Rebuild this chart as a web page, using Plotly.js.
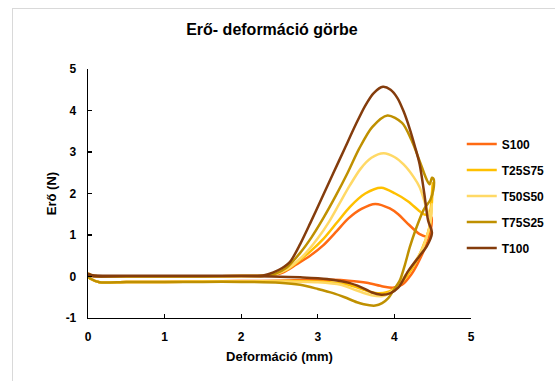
<!DOCTYPE html>
<html>
<head>
<meta charset="utf-8">
<script src="https://cdn.plot.ly/plotly-3.0.1.min.js"></script>
<style>
  html, body { margin: 0; padding: 0; background: #ffffff; overflow: hidden; }
  #frame { position: absolute; left: 12px; top: 8px; width: 600px; height: 420px;
           border: 1px solid #d9d9d9; box-sizing: border-box; }
  #chart { position: absolute; left: 0; top: 0; width: 555px; height: 381px; }
</style>
</head>
<body>
<div id="frame"></div>
<div id="chart"></div>
<script>
// Force–deformation loops: loading branch (0 -> 4.5 mm) followed by unloading branch back to 0.
const seriesNames = ["S100", "T25S75", "T50S50", "T75S25", "T100"];
const seriesColors = ["#FF6A13", "#FFC000", "#FFD966", "#BF9000", "#843C0C"];

const s100X = [0, 0.06, 0.5, 1, 1.5, 2, 2.3, 2.45, 2.55, 2.72, 2.9, 3.07, 3.25, 3.4, 3.57, 3.75, 3.94, 4.05, 4.16, 4.33, 4.42, 4.46, 4.49,
               4.47, 4.40, 4.30, 4.22, 4.10, 3.98, 3.85, 3.64, 3.40, 3.20, 2.90, 2.50, 2.00, 1.50, 1.00, 0.50, 0.15, 0.04, 0];
const s100Y = [0.07, 0.02, 0.0, 0.0, 0.0, 0.01, 0.02, 0.05, 0.1, 0.29, 0.5, 0.75, 1.1, 1.4, 1.63, 1.75, 1.64, 1.5, 1.3, 1.02, 0.97, 1.2, 1.42,
               1.05, 0.69, 0.3, 0.05, -0.2, -0.27, -0.24, -0.15, -0.1, -0.08, -0.08, -0.1, -0.11, -0.12, -0.13, -0.13, -0.14, -0.06, 0.0];

const t25X = [0, 0.06, 0.5, 1, 1.5, 2, 2.3, 2.45, 2.6, 2.72, 2.9, 3.07, 3.25, 3.42, 3.62, 3.83, 4.01, 4.18, 4.33, 4.40, 4.46, 4.49, 4.5,
              4.49, 4.46, 4.40, 4.30, 4.16, 4.05, 3.90, 3.75, 3.60, 3.40, 3.10, 2.60, 2.00, 1.50, 1.00, 0.50, 0.15, 0.04, 0];
const t25Y = [0.07, 0.02, 0.0, 0.0, 0.0, 0.01, 0.02, 0.06, 0.17, 0.33, 0.6, 0.9, 1.3, 1.68, 2.0, 2.14, 2.0, 1.81, 1.57, 1.49, 1.55, 2.0, 2.25,
              1.8, 1.2, 0.85, 0.42, 0.0, -0.22, -0.38, -0.4, -0.32, -0.2, -0.13, -0.11, -0.12, -0.12, -0.13, -0.13, -0.14, -0.06, 0.0];

const t50X = [0, 0.06, 0.5, 1, 1.5, 2, 2.3, 2.45, 2.59, 2.81, 3.0, 3.15, 3.28, 3.42, 3.56, 3.7, 3.86, 4.0, 4.12, 4.25, 4.33, 4.42, 4.46, 4.49,
              4.47, 4.42, 4.36, 4.25, 4.13, 4.00, 3.85, 3.70, 3.50, 3.30, 3.00, 2.50, 2.00, 1.50, 1.00, 0.50, 0.15, 0.04, 0];
const t50Y = [0.07, 0.02, 0.0, 0.0, 0.0, 0.01, 0.02, 0.06, 0.17, 0.5, 0.92, 1.33, 1.75, 2.2, 2.6, 2.86, 2.97, 2.88, 2.7, 2.4, 2.15, 1.65, 1.45, 1.75,
              1.3, 0.95, 0.65, 0.3, 0.0, -0.3, -0.47, -0.45, -0.33, -0.2, -0.14, -0.12, -0.12, -0.12, -0.13, -0.13, -0.14, -0.06, 0.0];

const t75X = [0, 0.06, 0.5, 1, 1.5, 2, 2.3, 2.45, 2.59, 2.77, 2.92, 3.07, 3.23, 3.39, 3.54, 3.71, 3.91, 4.1, 4.22, 4.33, 4.42, 4.46, 4.49, 4.51, 4.51,
              4.47, 4.38, 4.27, 4.20, 4.14, 4.07, 4.00, 3.92, 3.84, 3.75, 3.60, 3.51, 3.35, 3.20, 3.00, 2.77, 2.50, 2.00, 1.50, 1.00, 0.50, 0.15, 0.04, 0];
const t75Y = [0.07, 0.02, 0.0, 0.0, 0.0, 0.01, 0.02, 0.07, 0.21, 0.57, 0.95, 1.4, 1.93, 2.5, 3.08, 3.6, 3.88, 3.7, 3.3, 2.78, 2.34, 2.22, 2.38, 2.36, 2.1,
              1.85, 1.6, 1.09, 0.7, 0.3, -0.1, -0.3, -0.52, -0.64, -0.7, -0.67, -0.62, -0.5, -0.4, -0.3, -0.2, -0.15, -0.13, -0.13, -0.13, -0.13, -0.14, -0.06, 0.0];

const t100X = [0, 0.06, 0.5, 1, 1.5, 2, 2.3, 2.42, 2.53, 2.64, 2.77, 2.9, 3.05, 3.2, 3.35, 3.5, 3.62, 3.73, 3.85, 3.95, 4.04, 4.12, 4.2, 4.27, 4.33, 4.39, 4.44, 4.49,
               4.42, 4.33, 4.18, 4.05, 3.95, 3.83, 3.70, 3.64, 3.42, 3.12, 2.77, 2.40, 2.00, 1.50, 1.00, 0.50, 0.05, 0];
const t100Y = [0.07, 0.03, 0.02, 0.02, 0.02, 0.02, 0.03, 0.1, 0.2, 0.36, 0.78, 1.28, 1.88, 2.48, 3.08, 3.68, 4.12, 4.42, 4.57, 4.5, 4.3, 3.98, 3.56, 3.12, 2.7, 2.0, 1.35, 1.05,
               0.72, 0.5, 0.13, -0.27, -0.4, -0.44, -0.38, -0.32, -0.16, -0.06, -0.02, 0.0, 0.01, 0.01, 0.01, 0.01, 0.01, 0.04];

const xTickValues = [0, 1, 2, 3, 4, 5];
const yTickValues = [-1, 0, 1, 2, 3, 4, 5];

const xs = [s100X, t25X, t50X, t75X, t100X];
const ys = [s100Y, t25Y, t50Y, t75Y, t100Y];

const font = "Liberation Sans, Arial, sans-serif";

const traces = seriesNames.map((name, i) => ({
  type: "scatter",
  mode: "lines",
  name: name,
  legendgroup: name,
  x: xs[i],
  y: ys[i],
  line: { color: seriesColors[i], width: 2.5, shape: "spline", smoothing: 0.8 },
  hoverinfo: "skip"
}));

const axisCommon = {
  showgrid: false,
  zeroline: false,
  showline: true,
  linecolor: "#000000",
  linewidth: 1.3,
  ticks: "inside",
  ticklen: 4,
  tickwidth: 1.3,
  tickcolor: "#000000",
  tickfont: { family: font, size: 12, color: "#000000", weight: "bold" },
  mirror: false,
  fixedrange: true
};

const layout = {
  width: 555,
  height: 381,
  paper_bgcolor: "rgba(0,0,0,0)",
  plot_bgcolor: "rgba(0,0,0,0)",
  margin: { l: 88, r: 84, t: 69, b: 63, autoexpand: false },
  title: {
    text: "Erő- deformáció görbe",
    font: { family: font, size: 16, color: "#000000", weight: "bold" },
    x: 0.49, xref: "container", xanchor: "center",
    y: 0.924, yref: "container", yanchor: "middle"
  },
  xaxis: Object.assign({}, axisCommon, {
    range: [0, 5],
    tickvals: xTickValues,
    ticktext: xTickValues.map(String),
    ticklabelstandoff: 7,
    title: { text: "Deformáció (mm)", font: { family: font, size: 13, color: "#000000", weight: "bold" }, standoff: 9 }
  }),
  yaxis: Object.assign({}, axisCommon, {
    range: [-1, 5],
    tickvals: yTickValues,
    ticktext: yTickValues.map(String),
    ticklabelstandoff: 8,
    title: { text: "Erő (N)", font: { family: font, size: 13, color: "#000000", weight: "bold" }, standoff: 6 }
  }),
  showlegend: true,
  legend: {
    x: 0.832, xanchor: "left", xref: "container",
    y: 0.66, yanchor: "top", yref: "container",
    traceorder: "grouped",
    tracegroupgap: 7,
    font: { family: font, size: 12, color: "#000000", weight: "bold" },
    bgcolor: "rgba(0,0,0,0)",
    borderwidth: 0,
    itemwidth: 30
  }
};

Plotly.newPlot("chart", traces, layout, { staticPlot: true, displayModeBar: false });
</script>
</body>
</html>
